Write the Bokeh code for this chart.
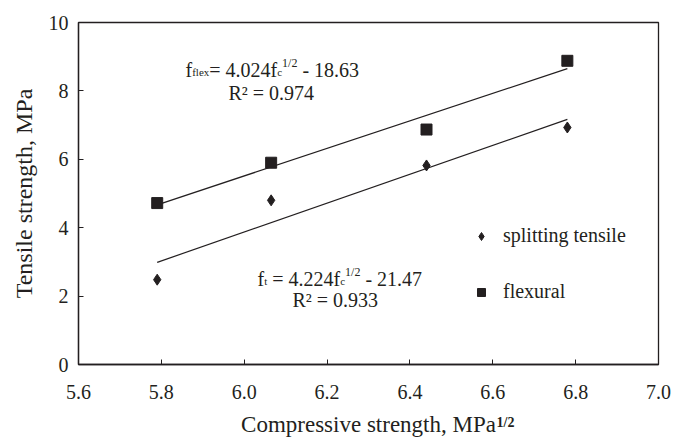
from bokeh.plotting import figure
from bokeh.models import Label, Legend, LegendItem, Range1d, FixedTicker, PrintfTickFormatter, Title
from bokeh.embed import file_html
from bokeh.resources import INLINE

# ---- data ----
fc_sqrt = [5.79, 6.065, 6.44, 6.78]          # compressive strength, MPa^1/2
splitting = [2.48, 4.80, 5.82, 6.93]         # splitting tensile strength, MPa
flexural = [4.72, 5.90, 6.87, 8.88]          # flexural strength, MPa
fit_flex = (4.024, -18.63)                   # slope, intercept
fit_split = (4.224, -21.47)
x_ticks = [5.6, 5.8, 6.0, 6.2, 6.4, 6.6, 6.8, 7.0]
y_ticks = [0, 2, 4, 6, 8, 10]

INK = "#231f20"
FONT = "Liberation Serif"

W, H = 673, 439
L, R, T, B = 78, 15, 22, 75
p = figure(width=W, height=H, x_range=Range1d(5.6, 7.0), y_range=Range1d(0, 10),
           output_backend="svg", toolbar_location=None,
           min_border_left=L, min_border_right=R, min_border_top=T, min_border_bottom=B)
p.background_fill_color = "white"
p.border_fill_color = "white"
p.outline_line_color = INK
p.outline_line_width = 1.3
p.xgrid.visible = False
p.ygrid.visible = False

for ax in (p.xaxis[0], p.yaxis[0]):
    ax.axis_line_color = INK
    ax.axis_line_width = 1.3
    ax.major_tick_line_color = INK
    ax.major_tick_in = 5
    ax.major_tick_out = 0
    ax.minor_tick_line_color = None
    ax.major_label_text_font = FONT
    ax.major_label_text_font_size = "20px"
    ax.major_label_text_color = INK
    ax.axis_label_text_font = FONT
    ax.axis_label_text_font_style = "normal"
    ax.axis_label_text_color = INK

p.xaxis.ticker = FixedTicker(ticks=x_ticks)
p.yaxis.ticker = FixedTicker(ticks=y_ticks)
p.xaxis.formatter = PrintfTickFormatter(format="%.1f")
p.yaxis.formatter = PrintfTickFormatter(format="%d")
p.xaxis.major_label_standoff = 20
p.yaxis.major_label_standoff = 10

p.yaxis.axis_label = "Tensile strength, MPa"
p.yaxis.axis_label_text_font_size = "24px"
p.yaxis.axis_label_standoff = 9

p.xaxis.axis_label = "Compressive strength, MPa"
p.xaxis.axis_label_text_font_size = "23px"
p.xaxis.axis_label_standoff = 10

# bold superscript "1/2" after the x axis label (pulled up into the axis panel)
p.add_layout(Title(text="1/2", align="left", offset=418, vertical_align="top", standoff=-50,
                   text_font=FONT, text_font_size="14px", text_font_style="bold",
                   text_color=INK), "below")

# ---- fit lines ----
xs_fit = [min(fc_sqrt), max(fc_sqrt)]
p.line(xs_fit, [fit_flex[0] * x + fit_flex[1] for x in xs_fit], line_color=INK, line_width=1.2)
p.line(xs_fit, [fit_split[0] * x + fit_split[1] for x in xs_fit], line_color=INK, line_width=1.2)

# ---- points ----
r_split = p.scatter(fc_sqrt, splitting, marker="diamond", size=11, color=INK)
r_flex = p.scatter(fc_sqrt, flexural, marker="square", size=11, color=INK)

legend = Legend(items=[LegendItem(label="splitting tensile", renderers=[r_split]),
                       LegendItem(label="flexural", renderers=[r_flex])],
                location=(393, 61), border_line_color=None, background_fill_alpha=0,
                spacing=33, padding=0, margin=0, glyph_width=20, glyph_height=20,
                label_standoff=12, label_text_font=FONT, label_text_font_size="20px",
                label_text_color=INK)
p.add_layout(legend)

# ---- text helpers (pixel layout converted to data units) ----
FW, FH = W - L - R, H - T - B


def px2x(px):
    return 5.6 + (px - L) * 1.4 / FW


def px2y(py):
    return (H - B - py) * 10.0 / FH


WID = {" ": 250, "=": 564, "-": 333, ".": 250, "/": 278, "f": 333, "l": 278, "e": 444,
       "x": 500, "c": 444, "t": 278, "R": 667, "²": 300, ",": 250}


def tw(s, size):
    return sum(WID.get(ch, 500) for ch in s) * size / 1000.0


def rich(pieces, x0, base):
    x = x0
    for text, size, shift, style in pieces:
        lead = len(text) - len(text.lstrip(" "))
        x += tw(" " * lead, size)
        body = text.lstrip(" ")
        p.add_layout(Label(x=px2x(x), y=px2y(base - shift), text=body, text_font=FONT,
                           text_font_size=f"{size}px", text_font_style=style,
                           text_baseline="alphabetic", text_align="left", text_color=INK,
                           level="overlay"))
        x += tw(body, size)


rich([("f", 20, 0, "normal"), ("flex", 11, -2, "normal"), ("= 4.024f", 20, 0, "normal"),
      ("c", 11, -2, "normal"), ("1/2", 12, 7, "normal"), (" - 18.63", 20, 0, "normal")], 185, 69)
rich([("R² = 0.974", 20, 0, "normal")], 228, 92)
rich([("f", 20, 0, "normal"), ("t", 11, -2, "normal"), (" = 4.224f", 20, 0, "normal"),
      ("c", 11, -2, "normal"), ("1/2", 12, 7, "normal"), (" - 21.47", 20, 0, "normal")], 257, 278)
rich([("R² = 0.933", 20, 0, "normal")], 292, 299)

open("out.html", "w").write(file_html(p, INLINE))
